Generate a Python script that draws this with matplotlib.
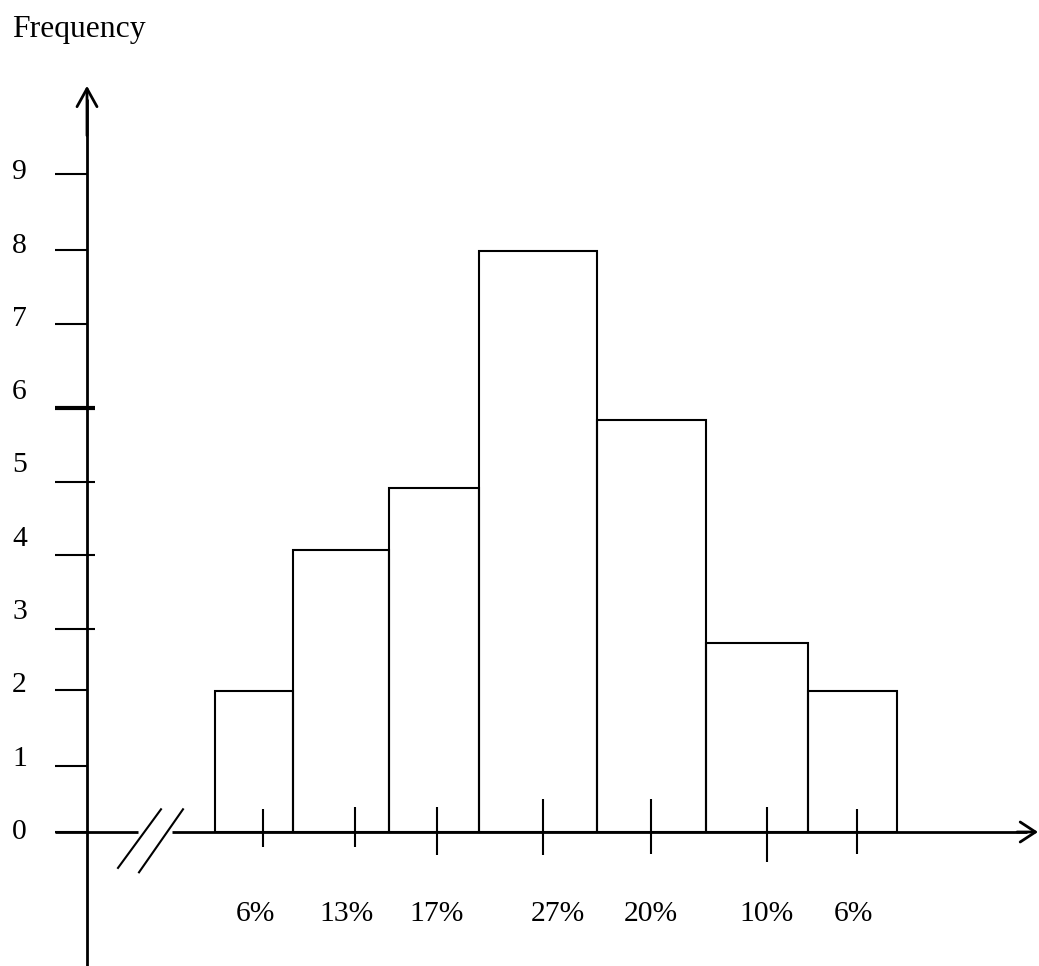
import matplotlib
matplotlib.use("Agg")
import matplotlib.pyplot as plt

# ---- data ----
class_edges = [12.8, 20.6, 30.2, 39.2, 51.0, 61.9, 72.1, 81.0]   # class boundaries along the x axis
frequencies = [1.93, 3.85, 4.69, 7.93, 5.62, 2.58, 1.93]          # bar heights as drawn
percent_labels = ["6%", "13%", "17%", "27%", "20%", "10%", "6%"]
percent_x = [16.8, 26.0, 35.0, 47.1, 56.4, 68.0, 76.6]
class_mid_ticks = [17.6, 26.8, 35.0, 45.6, 56.4, 68.0, 77.0]
ytick_labels = ["0", "1", "2", "3", "4", "5", "6", "7", "8", "9"]
ytick_marks = [0, 0.90, 1.94, 2.77, 3.78, 4.77, 5.78, 6.93, 7.94, 8.98]  # hand-drawn tick marks

# styling of hand-drawn tick marks (top / bottom extents)
xtick_top = [0.31, 0.34, 0.34, 0.45, 0.45, 0.34, 0.31]
xtick_bot = [-0.20, -0.20, -0.31, -0.31, -0.30, -0.41, -0.30]
ytick_right = [0, 0, 0, 0.8, 0.8, 0.8, 0.8, 0, 0, 0]

plt.rcParams['font.family'] = ['Liberation Serif', 'DejaVu Serif']
FS = 21.3

fig = plt.figure(figsize=(10.39, 9.66), dpi=100)
ax = fig.add_axes([0, 0, 1, 1])
ax.set_xlim(-8.7, 95.2)
ax.set_ylim(-1.828, 11.35)
ax.axis('off')

LW_AX = 2.0
LW_BAR = 1.5

# bars
lefts = class_edges[:-1]
widths = [b - a for a, b in zip(class_edges[:-1], class_edges[1:])]
ax.bar(lefts, frequencies, width=widths, align='edge', bottom=0,
       fill=False, edgecolor='black', linewidth=LW_BAR, zorder=3)

# y axis with arrow
ax.plot([0, 0], [-1.828, 10.0], color='black', lw=LW_AX, solid_capstyle='butt', zorder=4)
ax.annotate('', xy=(0, 10.18), xytext=(0, 9.5),
            arrowprops=dict(arrowstyle='->,head_length=1.3,head_width=0.72',
                            lw=LW_AX, color='black', shrinkA=0, shrinkB=0))

# x axis (broken) with arrow
ax.plot([-3.2, 5.1], [0, 0], color='black', lw=LW_AX, solid_capstyle='butt', zorder=4)
ax.plot([8.5, 94.0], [0, 0], color='black', lw=LW_AX, solid_capstyle='butt', zorder=4)
ax.annotate('', xy=(95.1, 0), xytext=(93.0, 0),
            arrowprops=dict(arrowstyle='->,head_length=1.1,head_width=0.72',
                            lw=LW_AX, color='black', shrinkA=0, shrinkB=0))
# break marks
ax.plot([3.1, 7.4], [-0.49, 0.31], color='black', lw=1.5)
ax.plot([5.2, 9.6], [-0.55, 0.31], color='black', lw=1.5)

# y tick marks and labels
for i, (yv, lab, r) in enumerate(zip(ytick_marks, ytick_labels, ytick_right)):
    lw = 3.0 if lab == "6" else 1.5
    ax.plot([-3.2, r], [yv, yv], color='black', lw=lw, solid_capstyle='butt')
    ax.text(-6.75, i, lab, ha='center', va='center', fontsize=FS)

# x tick marks at class mid points
for xv, t, b in zip(class_mid_ticks, xtick_top, xtick_bot):
    ax.plot([xv, xv], [b, t], color='black', lw=1.5, solid_capstyle='butt', zorder=5)

# percentage labels
for xv, lab in zip(percent_x, percent_labels):
    ax.text(xv, -1.21, lab, ha='center', va='baseline', fontsize=FS)

ax.text(-7.5, 10.85, "Frequency", ha='left', va='baseline', fontsize=22.8)

fig.savefig("out.png", dpi=100)
